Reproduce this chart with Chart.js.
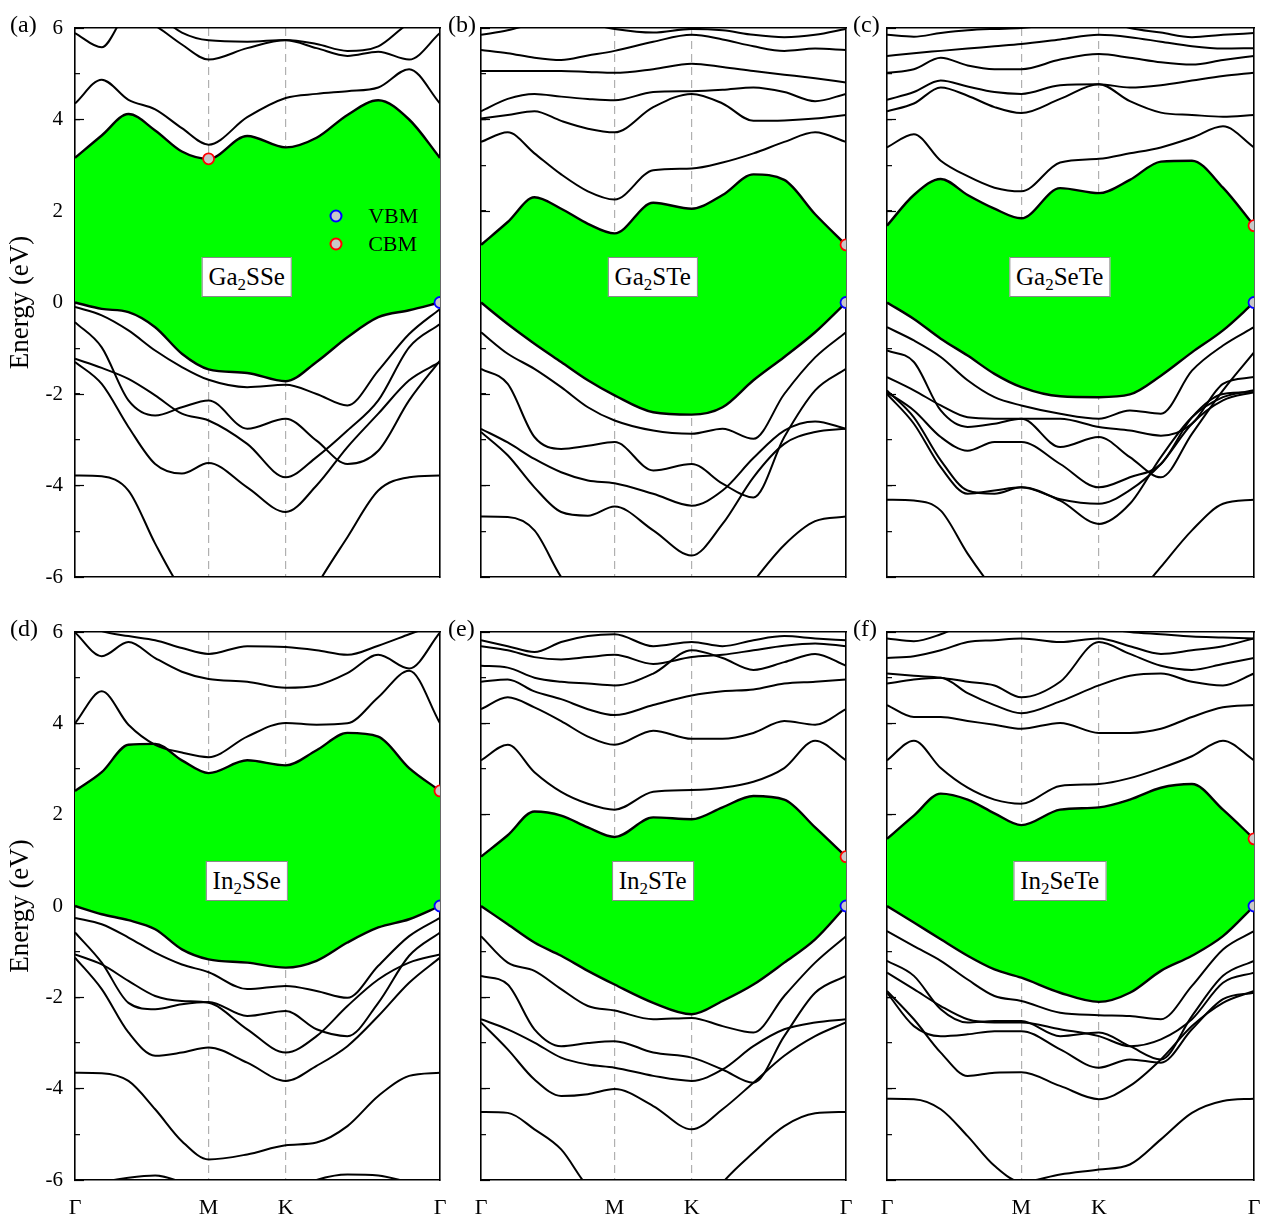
<!DOCTYPE html>
<html lang="en">
<head>
<meta charset="UTF-8">
<title>Band structures</title>
<script src="https://cdn.jsdelivr.net/npm/chart.js@4.4.7/dist/chart.umd.min.js"></script>
<style>
  body { margin: 0; background: #fff; }
  #wrap { position: relative; width: 1263px; height: 1221px; overflow: hidden; font-family: 'Liberation Serif', 'Times New Roman', serif; color: #000; }
  #wrap canvas { position: absolute; }
  .tag { position: absolute; font-size: 24px; line-height: 24px; }
  .name { position: absolute; background: #fff; border: 1px solid #8a8a8a; font-size: 25px; line-height: 30px; padding: 4px 6px; transform: translate(-50%, -50%); white-space: nowrap; }
  .name sub { font-size: 17px; vertical-align: -5px; line-height: 0; }
  .leg { position: absolute; font-size: 22px; line-height: 22px; }
  .dot { position: absolute; width: 9px; height: 9px; border-radius: 50%; background: #c8c8c8; border: 2px solid; transform: translate(-50%, -50%); }
</style>
</head>
<body>
<div id="wrap"></div>
<script>
// k-path sample positions (Γ-M-K-Γ, hexagonal zone, |ΓM| = 1)
const kPath = [0, 0.2, 0.4, 0.6, 0.8, 1, 1.289, 1.577, 1.808, 2.039, 2.270, 2.501, 2.732];
const kTicks = [0, 1, 1.577, 2.732];
const kNames = ['Γ', 'M', 'K', 'Γ'];

// (a) Ga2SSe - first row of each array is the band edge
const ga2sseCB = [
  [3.16, 3.65, 4.12, 3.76, 3.30, 3.14, 3.64, 3.39, 3.60, 4.10, 4.42, 4.00, 3.16],
  [4.35, 4.87, 4.43, 4.22, 3.81, 3.45, 4.05, 4.47, 4.56, 4.62, 4.70, 5.10, 4.35],
  [5.89, 5.58, 6.30, 6.05, 5.64, 5.31, 5.56, 5.73, 5.56, 5.39, 5.48, 5.31, 5.89],
  [6.40, 6.40, 6.40, 6.30, 5.90, 5.73, 5.70, 5.74, 5.65, 5.50, 5.60, 6.10, 6.30]
];
const ga2sseVB = [
  [0, -0.14, -0.21, -0.54, -1.12, -1.46, -1.54, -1.72, -1.30, -0.76, -0.32, -0.17, 0],
  [-0.10, -0.28, -0.61, -1.05, -1.41, -1.69, -1.85, -1.80, -2.00, -2.25, -1.49, -0.69, -0.14],
  [-0.43, -0.98, -2.14, -2.47, -2.29, -2.14, -2.76, -2.54, -3.02, -3.53, -3.24, -2.14, -1.27],
  [-1.23, -1.43, -1.67, -2.03, -2.43, -2.58, -3.09, -3.82, -3.38, -2.80, -2.14, -0.98, -0.47],
  [-1.30, -1.78, -2.72, -3.53, -3.74, -3.51, -4.04, -4.58, -4.00, -3.16, -2.43, -1.70, -1.30],
  [-3.78, -3.80, -4.11, -5.27, -6.30, -7.00, -7.40, -7.50, -6.20, -5.13, -4.11, -3.82, -3.78]
];
const ga2sseVBM = [2.732, 0];
const ga2sseCBM = [1, 3.14];

// (b) Ga2STe
const ga2steCB = [
  [1.26, 1.76, 2.30, 2.05, 1.72, 1.51, 2.18, 2.05, 2.35, 2.80, 2.68, 1.93, 1.26],
  [3.51, 3.72, 3.26, 2.80, 2.43, 2.25, 2.89, 2.93, 3.06, 3.26, 3.51, 3.72, 3.51],
  [4.02, 4.10, 4.18, 3.97, 3.80, 3.72, 4.27, 4.56, 4.35, 3.97, 3.98, 4.02, 4.10],
  [4.18, 4.45, 4.56, 4.50, 4.45, 4.42, 4.60, 4.62, 4.65, 4.70, 4.60, 4.40, 4.56],
  [5.06, 5.06, 5.06, 5.06, 5.04, 5.02, 5.10, 5.22, 5.15, 5.06, 4.98, 4.90, 4.81],
  [5.52, 5.45, 5.35, 5.30, 5.40, 5.50, 5.70, 5.85, 5.75, 5.60, 5.50, 5.55, 5.52],
  [5.85, 5.95, 6.10, 6.20, 6.10, 5.98, 5.90, 5.98, 5.95, 5.85, 5.80, 5.85, 5.98]
];
const ga2steVB = [
  [0, -0.47, -0.90, -1.30, -1.70, -2.03, -2.40, -2.45, -2.29, -1.70, -1.19, -0.65, 0],
  [-0.65, -1.12, -1.45, -1.85, -2.29, -2.58, -2.80, -2.87, -2.76, -2.98, -2.00, -1.20, -0.65],
  [-1.45, -1.78, -2.94, -3.20, -3.13, -3.05, -3.67, -3.53, -3.96, -4.26, -2.94, -1.92, -1.45],
  [-2.76, -3.06, -3.42, -3.71, -3.89, -3.95, -4.18, -4.44, -4.11, -3.40, -2.80, -2.60, -2.76],
  [-2.83, -3.34, -4.04, -4.58, -4.66, -4.46, -4.98, -5.53, -4.84, -3.82, -3.09, -2.83, -2.76],
  [-4.68, -4.69, -4.98, -6.00, -6.70, -7.50, -8.00, -7.50, -7.00, -6.10, -5.30, -4.78, -4.68]
];
const ga2steVBM = [2.732, 0];
const ga2steCBM = [2.732, 1.26];

// (c) Ga2SeTe
const ga2seteCB = [
  [1.68, 2.35, 2.70, 2.35, 2.05, 1.84, 2.50, 2.39, 2.68, 3.08, 3.10, 2.51, 1.68],
  [3.39, 3.68, 3.10, 2.76, 2.51, 2.43, 3.06, 3.14, 3.26, 3.39, 3.60, 3.85, 3.39],
  [4.18, 4.35, 4.70, 4.52, 4.27, 4.14, 4.45, 4.77, 4.40, 4.15, 4.10, 4.06, 4.10],
  [4.43, 4.60, 4.85, 4.72, 4.60, 4.56, 4.75, 4.77, 4.70, 4.75, 4.85, 4.95, 5.02],
  [5.02, 5.10, 5.35, 5.18, 5.10, 5.10, 5.31, 5.43, 5.35, 5.25, 5.20, 5.30, 5.39],
  [5.39, 5.45, 5.50, 5.55, 5.60, 5.65, 5.75, 5.85, 5.80, 5.70, 5.60, 5.55, 5.56],
  [5.85, 5.81, 5.89, 5.95, 5.98, 6.00, 6.10, 6.20, 6.00, 5.90, 5.80, 5.85, 5.89]
];
const ga2seteVB = [
  [0, -0.36, -0.79, -1.16, -1.56, -1.85, -2.05, -2.07, -2.01, -1.60, -1.09, -0.61, 0],
  [-0.54, -0.83, -1.19, -1.70, -2.07, -2.25, -2.43, -2.54, -2.36, -2.43, -1.49, -0.94, -0.54],
  [-1.05, -1.30, -2.36, -2.72, -2.65, -2.54, -3.16, -2.94, -3.38, -3.82, -2.87, -1.92, -1.09],
  [-1.63, -1.92, -2.25, -2.51, -2.54, -2.54, -2.54, -2.72, -2.80, -2.91, -2.65, -1.78, -1.63],
  [-1.96, -2.36, -2.94, -3.24, -3.05, -3.05, -3.53, -4.04, -3.82, -3.53, -2.51, -2.00, -1.96],
  [-1.92, -2.51, -3.45, -4.11, -4.18, -4.04, -4.33, -4.84, -4.40, -3.38, -2.51, -2.07, -1.92],
  [-2.00, -2.65, -3.60, -4.18, -4.11, -4.04, -4.30, -4.40, -4.10, -3.53, -2.65, -2.14, -1.96],
  [-4.31, -4.33, -4.55, -5.49, -6.30, -7.00, -7.50, -7.50, -6.60, -5.78, -4.98, -4.40, -4.31]
];
const ga2seteVBM = [2.732, 0];
const ga2seteCBM = [2.732, 1.68];

// (d) In2SSe
const in2sseCB = [
  [2.52, 2.93, 3.53, 3.55, 3.19, 2.91, 3.19, 3.08, 3.41, 3.79, 3.71, 3.02, 2.52],
  [4.00, 4.70, 3.97, 3.53, 3.36, 3.26, 3.71, 4.01, 3.97, 4.00, 4.57, 5.15, 4.00],
  [5.99, 5.47, 5.78, 5.43, 5.13, 4.97, 4.91, 4.78, 4.83, 5.10, 5.50, 5.20, 5.99],
  [6.30, 6.02, 5.91, 5.82, 5.65, 5.52, 5.69, 5.67, 5.60, 5.50, 5.70, 5.95, 6.20]
];
const in2sseVB = [
  [0, -0.18, -0.31, -0.51, -0.95, -1.17, -1.24, -1.35, -1.20, -0.80, -0.47, -0.29, 0],
  [-0.26, -0.40, -0.69, -1.02, -1.28, -1.45, -1.82, -1.75, -1.86, -2.01, -1.31, -0.66, -0.26],
  [-0.58, -1.24, -2.12, -2.26, -2.15, -2.10, -2.41, -2.30, -2.70, -2.85, -2.12, -1.09, -0.58],
  [-1.06, -1.28, -1.64, -1.97, -2.08, -2.12, -2.70, -3.21, -2.85, -2.19, -1.61, -1.24, -1.06],
  [-1.13, -1.82, -2.77, -3.28, -3.21, -3.10, -3.43, -3.83, -3.50, -3.07, -2.41, -1.68, -1.13],
  [-3.65, -3.66, -3.83, -4.45, -5.15, -5.55, -5.44, -5.24, -5.18, -4.82, -4.16, -3.72, -3.65],
  [-6.20, -6.05, -5.95, -5.90, -6.05, -6.30, -6.40, -6.30, -6.00, -5.88, -5.90, -6.05, -6.20]
];
const in2sseVBM = [2.732, 0];
const in2sseCBM = [2.732, 2.52];

// (e) In2STe
const in2steCB = [
  [1.08, 1.55, 2.07, 1.98, 1.72, 1.51, 1.94, 1.90, 2.16, 2.41, 2.33, 1.72, 1.08],
  [3.19, 3.53, 2.93, 2.50, 2.24, 2.11, 2.50, 2.54, 2.59, 2.72, 3.02, 3.62, 3.19],
  [4.31, 4.57, 4.35, 4.05, 3.71, 3.53, 3.84, 3.66, 3.66, 3.79, 4.05, 3.97, 4.31],
  [4.91, 4.96, 4.70, 4.53, 4.31, 4.18, 4.40, 4.61, 4.70, 4.74, 4.87, 4.91, 4.96],
  [5.26, 5.22, 5.00, 4.91, 4.87, 4.83, 5.09, 5.60, 5.43, 5.17, 5.34, 5.52, 5.26],
  [5.69, 5.60, 5.45, 5.40, 5.45, 5.50, 5.30, 5.45, 5.50, 5.60, 5.70, 5.75, 5.69],
  [5.82, 5.69, 5.56, 5.78, 5.91, 5.95, 5.69, 5.78, 5.69, 5.82, 5.91, 5.86, 5.82]
];
const in2steVB = [
  [0, -0.40, -0.80, -1.09, -1.42, -1.72, -2.12, -2.37, -2.08, -1.72, -1.24, -0.73, 0],
  [-0.66, -1.24, -1.42, -1.82, -2.19, -2.29, -2.48, -2.45, -2.63, -2.77, -1.97, -1.24, -0.66],
  [-1.53, -1.72, -2.70, -3.07, -3.00, -2.96, -3.21, -3.32, -3.58, -3.87, -2.85, -1.90, -1.53],
  [-2.48, -2.70, -2.99, -3.32, -3.47, -3.54, -3.72, -3.83, -3.58, -3.07, -2.70, -2.55, -2.48],
  [-2.55, -3.14, -3.80, -4.16, -4.12, -4.01, -4.38, -4.89, -4.45, -3.87, -3.28, -2.85, -2.55],
  [-4.51, -4.53, -4.89, -5.33, -6.15, -6.60, -7.20, -7.00, -6.06, -5.40, -4.82, -4.54, -4.51]
];
const in2steVBM = [2.732, 0];
const in2steCBM = [2.732, 1.08];

// (f) In2SeTe
const in2seteCB = [
  [1.47, 1.98, 2.46, 2.33, 2.03, 1.77, 2.11, 2.16, 2.33, 2.59, 2.67, 2.11, 1.47],
  [3.19, 3.62, 3.02, 2.59, 2.33, 2.24, 2.63, 2.67, 2.80, 3.02, 3.28, 3.62, 3.19],
  [4.40, 4.14, 4.14, 4.05, 3.97, 3.88, 4.01, 3.79, 3.79, 3.88, 4.14, 4.35, 4.40],
  [4.87, 4.96, 5.00, 4.66, 4.40, 4.22, 4.48, 4.83, 5.04, 5.09, 4.91, 4.83, 5.09],
  [5.09, 5.04, 5.00, 4.91, 4.83, 4.57, 4.91, 5.78, 5.52, 5.26, 5.17, 5.30, 5.43],
  [5.43, 5.47, 5.60, 5.78, 5.82, 5.86, 5.78, 5.86, 5.69, 5.52, 5.60, 5.69, 5.86],
  [5.86, 5.80, 5.95, 6.20, 6.30, 6.30, 6.20, 6.10, 6.00, 5.95, 5.90, 5.88, 5.86]
];
const in2seteVB = [
  [0, -0.36, -0.73, -1.09, -1.39, -1.57, -1.90, -2.10, -1.90, -1.42, -1.09, -0.66, 0],
  [-0.55, -0.88, -1.20, -1.61, -1.97, -2.08, -2.34, -2.39, -2.41, -2.48, -1.75, -0.95, -0.55],
  [-1.20, -1.53, -2.26, -2.55, -2.52, -2.52, -2.85, -2.77, -3.07, -3.36, -2.41, -1.53, -1.20],
  [-1.46, -1.82, -2.19, -2.48, -2.55, -2.55, -2.70, -2.85, -3.07, -2.92, -2.48, -1.68, -1.46],
  [-1.86, -2.48, -3.21, -3.72, -3.65, -3.64, -3.94, -4.23, -3.94, -3.36, -2.63, -2.12, -1.86],
  [-1.90, -2.63, -2.85, -2.81, -2.74, -2.74, -3.14, -3.54, -3.36, -3.43, -2.70, -2.04, -1.90],
  [-4.22, -4.23, -4.45, -5.04, -5.69, -6.04, -5.88, -5.77, -5.66, -5.11, -4.53, -4.27, -4.22]
];
const in2seteVBM = [2.732, 0];
const in2seteCBM = [2.732, 1.47];

Chart.defaults.font.family = "'Liberation Serif', 'Times New Roman', serif";
Chart.defaults.color = '#000';

const wrap = document.getElementById('wrap');

const panels = [
  { tag: '(a)', name: ['Ga', '2', 'SSe'],  cb: ga2sseCB,  vb: ga2sseVB,  vbm: ga2sseVBM,  cbm: ga2sseCBM,  left: 75,  right: 440,  top: 28,  bottom: 577,  yLab: true,  xLab: false, tagX: 10,  legend: true },
  { tag: '(b)', name: ['Ga', '2', 'STe'],  cb: ga2steCB,  vb: ga2steVB,  vbm: ga2steVBM,  cbm: ga2steCBM,  left: 481, right: 846,  top: 28,  bottom: 577,  yLab: false, xLab: false, tagX: 448 },
  { tag: '(c)', name: ['Ga', '2', 'SeTe'], cb: ga2seteCB, vb: ga2seteVB, vbm: ga2seteVBM, cbm: ga2seteCBM, left: 887, right: 1254, top: 28,  bottom: 577,  yLab: false, xLab: false, tagX: 853 },
  { tag: '(d)', name: ['In', '2', 'SSe'],  cb: in2sseCB,  vb: in2sseVB,  vbm: in2sseVBM,  cbm: in2sseCBM,  left: 75,  right: 440,  top: 632, bottom: 1180, yLab: true,  xLab: true,  tagX: 10 },
  { tag: '(e)', name: ['In', '2', 'STe'],  cb: in2steCB,  vb: in2steVB,  vbm: in2steVBM,  cbm: in2steCBM,  left: 481, right: 846,  top: 632, bottom: 1180, yLab: false, xLab: true,  tagX: 448 },
  { tag: '(f)', name: ['In', '2', 'SeTe'], cb: in2seteCB, vb: in2seteVB, vbm: in2seteVBM, cbm: in2seteCBM, left: 887, right: 1254, top: 632, bottom: 1180, yLab: false, xLab: true,  tagX: 853 }
];

function bandPoints(band) {
  return kPath.map((k, i) => ({ x: k, y: band[i] }));
}

function bandSet(band, extra) {
  return Object.assign({
    data: bandPoints(band),
    borderColor: '#000',
    borderWidth: 2,
    pointRadius: 0,
    cubicInterpolationMode: 'monotone',
    fill: false,
    clip: 0
  }, extra || {});
}

function markerSet(pt, color) {
  return {
    data: [{ x: pt[0], y: pt[1] }],
    showLine: false,
    pointRadius: 5.5,
    pointBackgroundColor: '#c8c8c8',
    pointBorderColor: color,
    pointBorderWidth: 1.8,
    order: -1,
    clip: 0
  };
}

function makePanel(p) {
  // generous padding so the layout padding always wins over label overflow
  const axisW = p.yLab ? 75 : 0;
  const padL = p.yLab ? 0 : 30;
  const padT = 36, padR = 30;
  const padB = p.xLab ? 6 : 36;
  const xH = p.xLab ? 40 : 0;
  const w = padL + axisW + (p.right - p.left) + padR;
  const h = padT + (p.bottom - p.top) + xH + padB;
  const cLeft = p.left - axisW - padL, cTop = p.top - padT;

  const cv = document.createElement('canvas');
  cv.width = w; cv.height = h;
  cv.style.left = cLeft + 'px';
  cv.style.top = cTop + 'px';
  wrap.appendChild(cv);

  // dataset 0 = valence band top, dataset 1 = conduction band bottom (gap filled green)
  const datasets = [
    bandSet(p.vb[0], { borderWidth: 2.4 }),
    bandSet(p.cb[0], { borderWidth: 2.4, fill: '-1', backgroundColor: '#00ff00' })
  ];
  p.vb.slice(1).forEach(b => datasets.push(bandSet(b)));
  p.cb.slice(1).forEach(b => datasets.push(bandSet(b)));
  datasets.push(markerSet(p.vbm, '#0000ff'));
  datasets.push(markerSet(p.cbm, '#ff0000'));

  const chart = new Chart(cv, {
    type: 'line',
    data: { datasets: datasets },
    options: {
      responsive: false,
      animation: false,
      devicePixelRatio: 1,
      events: [],
      layout: { padding: { top: padT, right: padR, bottom: padB, left: padL } },
      plugins: {
        legend: { display: false },
        tooltip: { enabled: false },
        filler: { drawTime: 'beforeDatasetsDraw' }
      },
      scales: {
        x: {
          type: 'linear', min: 0, max: 2.732, position: 'bottom', z: 1,
          afterBuildTicks: s => { s.ticks = kTicks.map(v => ({ value: v })); },
          afterFit: s => { s.height = xH; },
          ticks: { display: p.xLab, autoSkip: false, maxRotation: 0, padding: 15, font: { size: 22 }, color: '#000',
                   callback: (v, i) => kNames[i] },
          grid: { drawTicks: false, lineWidth: 1.2,
                  color: c => (c.index === 1 || c.index === 2) ? '#b0b0b0' : 'rgba(0,0,0,0)' },
          border: { color: '#000', width: 1.6, dash: [8, 5] }
        },
        xt: {
          type: 'linear', min: 0, max: 2.732, position: 'top', z: 1,
          afterFit: s => { s.height = 0; },
          ticks: { display: false }, grid: { display: false },
          border: { color: '#000', width: 1.6 }
        },
        y: {
          type: 'linear', min: -6, max: 6, position: 'left', weight: 0, z: 1,
          afterFit: s => { s.width = 0; },
          ticks: { display: false, stepSize: 1 },
          grid: { lineWidth: 1.3, tickLength: -5, tickColor: '#000', tickWidth: 1.2,
                  color: c => (c.tick && c.tick.value === 0) ? '#c8c8c8' : 'rgba(0,0,0,0)' },
          border: { display: false, dash: [3, 4] }
        },
        yl: {
          type: 'linear', min: -6, max: 6, position: 'left', weight: 1, z: 1,
          afterFit: s => { s.width = axisW; },
          ticks: { display: p.yLab, stepSize: 2, padding: 21, font: { size: 21 }, color: '#000',
                   callback: v => String(v) },
          grid: { drawOnChartArea: false, tickLength: -9, tickColor: '#000', tickWidth: 1.2 },
          border: { color: '#000', width: 1.6 },
          title: { display: p.yLab, text: 'Energy (eV)', font: { size: 27 }, color: '#000', padding: { top: 5, bottom: 0 } }
        },
        yr: {
          type: 'linear', min: -6, max: 6, position: 'right', z: 1,
          afterFit: s => { s.width = 0; },
          ticks: { display: false }, grid: { display: false },
          border: { color: '#000', width: 1.6 }
        }
      }
    }
  });

  // panel letter
  const tag = document.createElement('div');
  tag.className = 'tag';
  tag.textContent = p.tag;
  tag.style.left = p.tagX + 'px';
  tag.style.top = (p.top - 16) + 'px';
  wrap.appendChild(tag);

  // compound label box
  const sx = chart.scales.x, sy = chart.scales.y;
  const box = document.createElement('div');
  box.className = 'name';
  box.innerHTML = p.name[0] + '<sub>' + p.name[1] + '</sub>' + p.name[2];
  box.style.left = (cLeft + sx.getPixelForValue(1.285)) + 'px';
  box.style.top = (cTop + sy.getPixelForValue(0.55)) + 'px';
  wrap.appendChild(box);

  if (p.legend) {
    [['VBM', '#0000ff', 1.9], ['CBM', '#ff0000', 1.27]].forEach(([txt, col, e]) => {
      const px = cLeft + sx.getPixelForValue(1.955);
      const py = cTop + sy.getPixelForValue(e);
      const d = document.createElement('div');
      d.className = 'dot';
      d.style.borderColor = col;
      d.style.left = px + 'px';
      d.style.top = py + 'px';
      wrap.appendChild(d);
      const t = document.createElement('div');
      t.className = 'leg';
      t.textContent = txt;
      t.style.left = (px + 32) + 'px';
      t.style.top = (py - 11) + 'px';
      wrap.appendChild(t);
    });
  }
}

panels.forEach(makePanel);
</script>
</body>
</html>
